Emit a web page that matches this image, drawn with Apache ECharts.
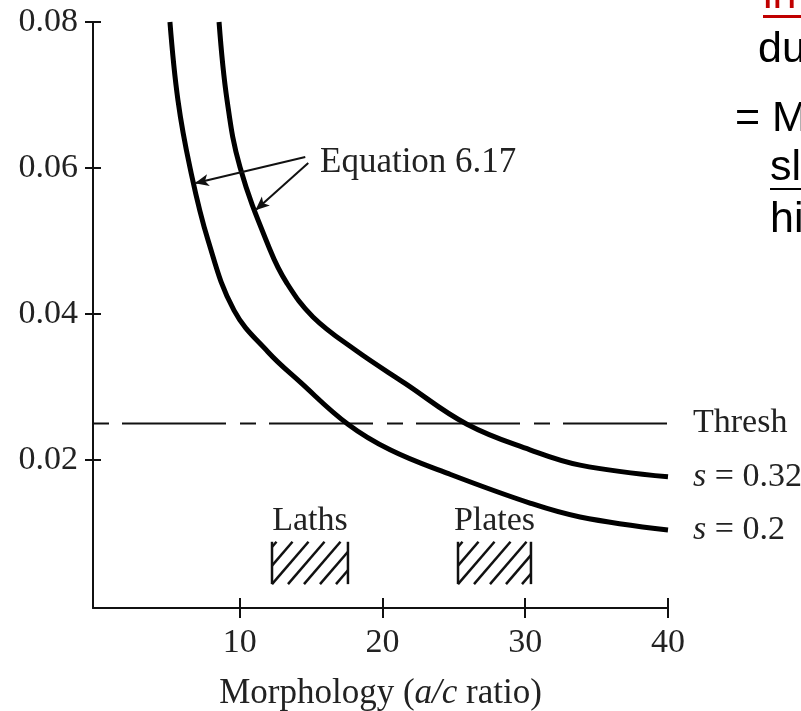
<!DOCTYPE html>
<html>
<head>
	<meta charset="utf-8">
	<title>Morphology</title>
	<style>
		html, body { margin: 0; padding: 0; background: #fff; }
		#chart1 { width: 801px; height: 711px; }
	</style>
</head>

<body>
	<div id="chart1"></div>

	<script src="https://cdn.jsdelivr.net/npm/echarts@6/dist/echarts.min.js"></script>
	<script>

	// values
	var xTicks = [10, 20, 30, 40];
	var yTicks = [0.02, 0.04, 0.06, 0.08];

	// s = 0.2 (lower curve)
	var curveLow = [
		[5.11, 0.0800], [5.67, 0.0693], [6.51, 0.0601], [7.78, 0.0501],
		[9.60, 0.0405], [11.98, 0.0348], [14.22, 0.0307], [17.58, 0.0249],
		[20.53, 0.0214], [24.52, 0.0182], [30.33, 0.0141], [33.84, 0.0122],
		[40.0, 0.0104]
	];
	// s = 0.32 (upper curve)
	var curveHigh = [
		[8.55, 0.0800], [9.11, 0.0693], [10.02, 0.0601], [12.12, 0.0488],
		[13.31, 0.0442], [15.13, 0.0396], [18.07, 0.0351], [21.58, 0.0305],
		[25.92, 0.0249], [30.33, 0.0214], [33.84, 0.0193], [40.0, 0.0177]
	];
	var threshold = 0.025;

	var boxNames = ['Laths', 'Plates'];
	var boxFrom = [12.26, 25.29];
	var boxTo = [17.58, 30.40];
	var boxLow = 0.0030, boxHigh = 0.0088;

	// Equation 6.17 arrows: [from, to]
	var arrowFrom = [[14.59, 0.0615], [14.80, 0.0607]];
	var arrowTo = [[6.85, 0.0579], [11.10, 0.0542]];

	var serif = '"Liberation Serif", "DejaVu Serif", serif';
	var sans = '"Liberation Sans", Arial, sans-serif';
	var ink = '#111';

	function show() {
		var myChart = echarts.init(document.getElementById('chart1'));

		var xMin = -0.28, yMin = -0.00027;

		var boxData = [];
		for (var i = 0; i < boxNames.length; i++) {
			boxData.push([boxFrom[i], boxTo[i], boxLow, boxHigh, i]);
		}

		var arrows = [];
		for (var j = 0; j < arrowFrom.length; j++) {
			arrows.push([{ coord: arrowFrom[j] }, { coord: arrowTo[j] }]);
		}

		function renderBox(params, api) {
			var tl = api.coord([api.value(0), api.value(3)]);
			var br = api.coord([api.value(1), api.value(2)]);
			var L = tl[0], T = tl[1], R = br[0], B = br[1];
			var s = 1.16, step = 16;
			var kids = [
				{ type: 'line', shape: { x1: L, y1: T, x2: L, y2: B }, style: { stroke: ink, lineWidth: 2.5 } },
				{ type: 'line', shape: { x1: R, y1: T, x2: R, y2: B }, style: { stroke: ink, lineWidth: 2.5 } }
			];
			for (var x0 = L - 3 * step; x0 < R; x0 += step) {
				var t0 = Math.max(L - x0, 0);
				var t1 = Math.min(R - x0, (B - T) / s);
				if (t1 - t0 < 1) continue;
				kids.push({
					type: 'line',
					shape: { x1: x0 + t0, y1: B - s * t0, x2: x0 + t1, y2: B - s * t1 },
					style: { stroke: ink, lineWidth: 2.5 }
				});
			}
			kids.push({
				type: 'text',
				style: {
					text: boxNames[api.value(4)], x: (L + R) / 2, y: T - 4,
					align: 'center', verticalAlign: 'bottom',
					font: '34px ' + serif, fill: '#222'
				}
			});
			return { type: 'group', children: kids };
		}

		var option = {
			animation: false,
			backgroundColor: '#fff',
			grid: { left: 93, right: 133, top: 22, bottom: 103, outerBoundsMode: 'none' },
			xAxis: [{
				type: 'value', min: xMin, max: 40,
				name: 'Morphology ({i|a/c} ratio)',
				nameLocation: 'middle', nameGap: 68,
				nameTextStyle: {
					fontFamily: serif, fontSize: 35, color: '#222',
					rich: { i: { fontFamily: serif, fontSize: 35, fontStyle: 'italic', color: '#222' } }
				},
				axisLine: { onZero: false, lineStyle: { color: ink, width: 2 } },
				axisTick: { customValues: xTicks, length: 10, lineStyle: { color: ink, width: 2 } },
				axisLabel: { customValues: xTicks, margin: 18, fontFamily: serif, fontSize: 34, color: '#222' },
				splitLine: { show: false }
			}, {
				type: 'value', min: xMin, max: 40, position: 'bottom',
				axisLine: { show: false, onZero: false },
				axisTick: { customValues: xTicks, inside: true, length: 10, lineStyle: { color: ink, width: 2 } },
				axisLabel: { show: false },
				splitLine: { show: false }
			}],
			yAxis: [{
				type: 'value', min: yMin, max: 0.08,
				axisLine: { show: true, onZero: false, lineStyle: { color: ink, width: 2 } },
				axisTick: { show: true, customValues: yTicks, length: 8, lineStyle: { color: ink, width: 2 } },
				axisLabel: {
					customValues: yTicks, margin: 15, fontFamily: serif, fontSize: 34, color: '#222',
					formatter: function (v) { return v.toFixed(2); }
				},
				splitLine: { show: false }
			}, {
				type: 'value', min: yMin, max: 0.08, position: 'left',
				axisLine: { show: false, onZero: false },
				axisTick: { show: true, customValues: yTicks, inside: true, length: 8, lineStyle: { color: ink, width: 2 } },
				axisLabel: { show: false },
				splitLine: { show: false }
			}],
			series: [{
				name: 'threshold',
				type: 'line',
				data: [[xMin, threshold], [40, threshold]],
				symbol: 'none',
				lineStyle: { color: ink, width: 2, type: [16, 13, 104, 14] },
				endLabel: {
					show: true, distance: 25, formatter: 'Thresh',
					fontFamily: serif, fontSize: 34, color: '#222'
				},
				z: 3
			}, {
				name: 's=0.32',
				type: 'line',
				data: curveHigh,
				symbol: 'none',
				smooth: 0.4,
				lineStyle: { color: '#000', width: 5 },
				endLabel: {
					show: true, distance: 25, formatter: '{i|s} = 0.32',
					fontFamily: serif, fontSize: 34, color: '#222',
					rich: { i: { fontFamily: serif, fontSize: 34, fontStyle: 'italic', color: '#222' } }
				},
				markLine: {
					silent: true,
					symbol: ['none', 'arrow'],
					symbolSize: [9, 14],
					label: { show: false },
					lineStyle: { color: ink, width: 2, type: 'solid' },
					data: arrows
				},
				z: 4
			}, {
				name: 's=0.2',
				type: 'line',
				data: curveLow,
				symbol: 'none',
				smooth: 0.4,
				lineStyle: { color: '#000', width: 5 },
				endLabel: {
					show: true, distance: 25, formatter: '{i|s} = 0.2',
					fontFamily: serif, fontSize: 34, color: '#222',
					rich: { i: { fontFamily: serif, fontSize: 34, fontStyle: 'italic', color: '#222' } }
				},
				z: 4
			}, {
				name: 'morphology',
				type: 'custom',
				data: boxData,
				renderItem: renderBox,
				silent: true,
				z: 2
			}],
			graphic: [
				{ type: 'text', left: 320, top: 145, style: { text: 'Equation 6.17', font: '35px ' + serif, fill: '#222' } },
				// slide text at the right edge
				{ type: 'text', x: 763, y: -4, style: { text: 'in', font: '43px ' + sans, fill: '#c00000', verticalAlign: 'middle' } },
				{ type: 'rect', shape: { x: 763, y: 15, width: 40, height: 3 }, style: { fill: '#c00000' } },
				{ type: 'text', x: 758, y: 50, style: { text: 'du', font: '43px ' + sans, fill: '#000', verticalAlign: 'middle' } },
				{ type: 'text', x: 735, y: 119, style: { text: '= M', font: '43px ' + sans, fill: '#000', verticalAlign: 'middle' } },
				{ type: 'text', x: 770, y: 168, style: { text: 'sl', font: '43px ' + sans, fill: '#000', verticalAlign: 'middle' } },
				{ type: 'rect', shape: { x: 770, y: 188, width: 32, height: 2 }, style: { fill: '#000' } },
				{ type: 'text', x: 770, y: 220, style: { text: 'hi', font: '43px ' + sans, fill: '#000', verticalAlign: 'middle' } }
			]
		};

		myChart.setOption(option);
	}

	show();

	</script>
</body>

</html>
